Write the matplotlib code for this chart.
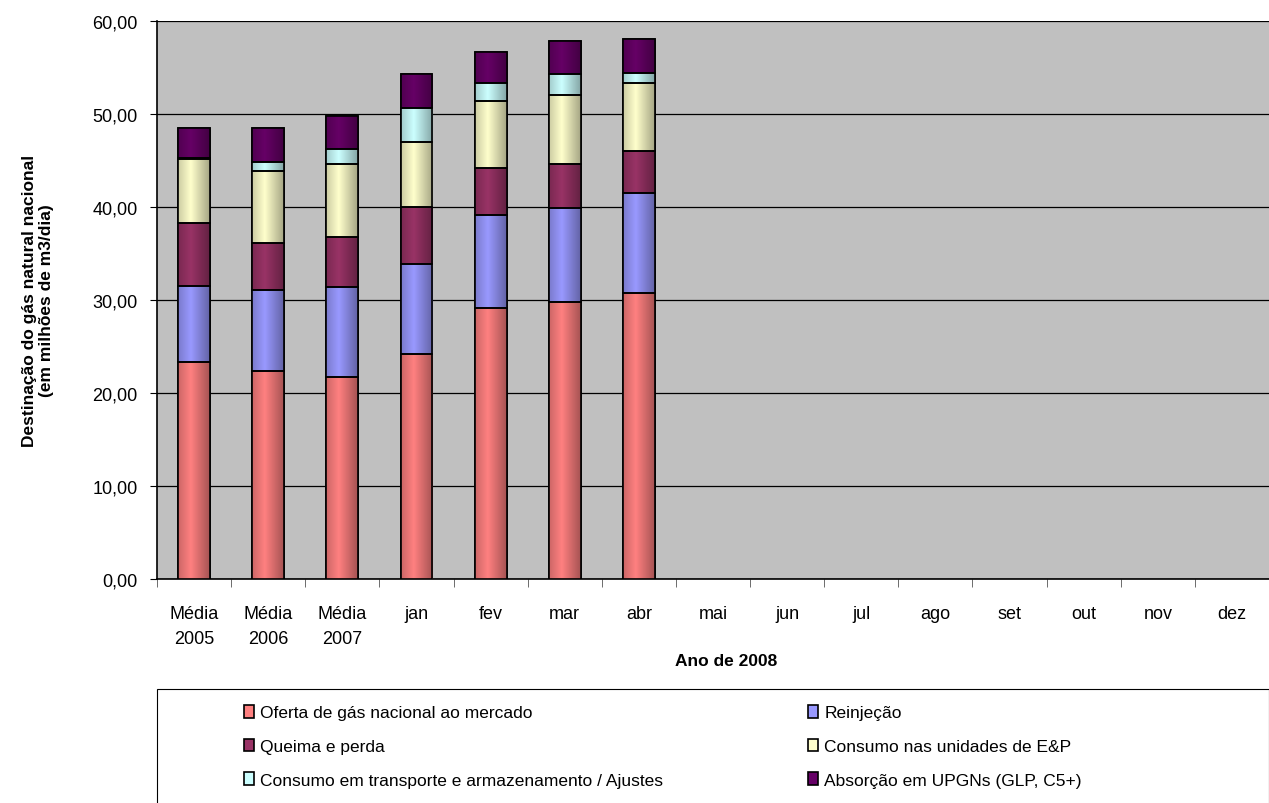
import matplotlib
matplotlib.use('Agg')
import matplotlib.pyplot as plt
import numpy as np
from matplotlib import colors as mcolors
from matplotlib.patches import Rectangle

plt.rcParams['font.family'] = ['Liberation Sans', 'DejaVu Sans']

categories = ['Média\n2005', 'Média\n2006', 'Média\n2007', 'jan', 'fev', 'mar', 'abr',
              'mai', 'jun', 'jul', 'ago', 'set', 'out', 'nov', 'dez']

# values for the first 7 categories, remaining months are empty
oferta     = [23.34, 22.41, 21.75, 24.14, 29.16, 29.82, 30.77]
reinjecao  = [8.20, 8.65, 9.60, 9.78, 9.98, 10.09, 10.75]
queima     = [6.75, 5.06, 5.39, 6.03, 5.07, 4.76, 4.53]
consumo_ep = [6.84, 7.71, 7.83, 7.09, 7.21, 7.40, 7.33]
transporte = [0.15, 0.96, 1.66, 3.61, 1.92, 2.23, 1.07]
absorcao   = [3.18, 3.66, 3.51, 3.69, 3.37, 3.53, 3.65]

series = [oferta, reinjecao, queima, consumo_ep, transporte, absorcao]
labels = ['Oferta de gás nacional ao mercado', 'Reinjeção', 'Queima e perda',
          'Consumo nas unidades de E&P',
          'Consumo em transporte e armazenamento / Ajustes',
          'Absorção em UPGNs (GLP, C5+)']
cols = ['#FF8080', '#9999FF', '#993366', '#FFFFCC', '#CCFFFF', '#660066']

W, H = 1269, 804


def shade(ax, patch, color):
    # fake the excel gradient: dark edges, light band left of centre
    x0, y0 = patch.get_x(), patch.get_y()
    w, h = patch.get_width(), patch.get_height()
    t = np.linspace(0, 1, 64)
    f = np.where(t < 0.4, 0.8 + 0.2 * (t / 0.4), 1.0 - 0.35 * ((t - 0.4) / 0.6))
    base = np.array(mcolors.to_rgb(color))
    img = np.clip(base[None, :] * f[:, None], 0, 1)[None, :, :]
    im = ax.imshow(img, extent=(x0, x0 + w, y0, y0 + h), aspect='auto',
                   interpolation='bilinear', zorder=3.1)
    im.set_clip_path(patch)


fig = plt.figure(figsize=(W / 100, H / 100), dpi=100)
ax = fig.add_axes([157 / W, 1 - 580 / H, 1 - 157 / W, (580 - 22) / H])
ax.set_facecolor('#C0C0C0')

x = np.arange(len(categories))
n = len(oferta)
bottom = np.zeros(n)
handles = []
for vals, lab, c in zip(series, labels, cols):
    bars = ax.bar(x[:n], vals, 0.43, bottom=bottom, color=c, edgecolor='black',
                  linewidth=1.2, label=lab, zorder=3)
    for p in bars:
        shade(ax, p, c)
    ax.bar(x[:n], vals, 0.43, bottom=bottom, fill=False, edgecolor='black',
           linewidth=1.2, zorder=3.2)
    handles.append(bars)
    bottom += np.array(vals)

ax.set_xlim(-0.5, len(categories) - 0.5)
ax.set_ylim(0, 60)
yt = np.arange(0, 61, 10)
ax.set_yticks(yt)
ax.set_yticklabels([f'{v:.2f}'.replace('.', ',') for v in yt], fontsize=13)
ax.yaxis.grid(True, color='black', linewidth=0.9)
ax.set_axisbelow(True)
ax.set_xticks(x)
ax.set_xticklabels(categories, fontsize=13, linespacing=1.55)
ax.set_xticks(np.arange(len(categories) + 1) - 0.5, minor=True)
ax.tick_params(axis='x', which='major', length=0, pad=19)
ax.tick_params(axis='x', which='minor', length=6, color='#555555')
ax.tick_params(axis='y', length=5, pad=9)
for s in ['top', 'right']:
    ax.spines[s].set_visible(False)
ax.spines['left'].set_linewidth(1.2)
ax.spines['bottom'].set_linewidth(1.2)

ax.set_xlabel('Ano de 2008', fontsize=12.5, fontweight='bold')
ax.xaxis.set_label_coords((726 - 157) / 1112, -(662 - 580) / 558, transform=ax.transAxes)
ax.xaxis.label.set_va('center')
ax.set_ylabel('Destinação do gás natural nacional\n(em milhões de m3/dia)',
              fontsize=12.5, fontweight='bold')
ax.yaxis.set_label_coords(-(157 - 38) / 1112, 0.5)
ax.yaxis.label.set_va('center')

# legend frame, runs off the bottom of the figure
fig.patches.append(Rectangle((157 / W, -0.05), 1 - 157 / W, 0.05 + 1 - 690 / H,
                             transform=fig.transFigure, facecolor='white',
                             edgecolor='black', linewidth=0.8, zorder=0))

for col, x0 in [(0, 244), (1, 808)]:
    idx = [col, col + 2, col + 4]
    lg = fig.legend([handles[i] for i in idx], [labels[i] for i in idx],
                    loc='upper left', bbox_to_anchor=(x0 / W, 1 - 706 / H),
                    fontsize=12.5, frameon=False, handlelength=0.6,
                    handleheight=0.75, handletextpad=0.35, labelspacing=1.05,
                    borderpad=0, borderaxespad=0)

fig.savefig('out.png', dpi=100)
